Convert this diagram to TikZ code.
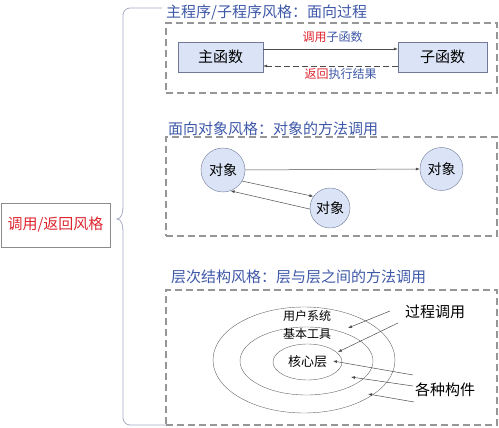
\documentclass[tikz,border=0pt]{standalone}
\usepackage{fontspec}
\setmainfont{Noto Sans CJK SC}
\usepackage{xcolor}
\usetikzlibrary{positioning,arrows.meta,shapes.geometric}
\definecolor{titleblue}{RGB}{62,88,168}
\definecolor{callred}{RGB}{222,36,46}
\definecolor{boxfill}{RGB}{218,228,246}
\definecolor{boxline}{RGB}{112,122,152}
\definecolor{dashgray}{RGB}{150,150,150}
\definecolor{bracegray}{RGB}{165,170,195}

\begin{document}
\begin{tikzpicture}[x=1pt,y=-1pt,
  title/.style={anchor=west,inner sep=0pt,text=titleblue,font=\fontsize{15}{18}\selectfont},
  frame/.style={draw=dashgray,dash pattern=on 7pt off 4pt,line width=1.1pt,inner sep=0pt},
  func/.style={draw=boxline,fill=boxfill,minimum height=30pt,font=\fontsize{15}{18}\selectfont},
  obj/.style={circle,draw=boxline,fill=boxfill,inner sep=0pt,font=\fontsize{14}{16}\selectfont},
  layer/.style={ellipse,draw=black!60,inner sep=0pt},
  call/.style={-{Latex[length=4pt,width=3pt]},draw=black!70,line width=0.5pt}]

  \useasboundingbox (0,0) rectangle (499,428);

  % left label and brace
  \node[draw=black!45,text=callred,minimum width=109pt,minimum height=44pt,font=\fontsize{15}{18}\selectfont] (CaRe) at (55.5,225) {调用/返回风格};
  \draw[bracegray,line width=0.8pt,rounded corners=7pt] (162,8) -- (123,8) -- (123,205);
  \draw[bracegray,line width=0.8pt] (123,205) .. controls (123,214) and (121,219) .. (117,219) .. controls (121,219) and (123,224) .. (123,233);
  \draw[bracegray,line width=0.8pt,rounded corners=7pt] (123,233) -- (123,425) -- (166,425);

  % main program / sub program
  \node[title] (PrTi) at (166,13) {主程序/子程序风格：面向过程};
  \node[frame,minimum width=331pt,minimum height=70pt] (PrFr) at (331.5,58) {};
  \node[func,minimum width=85pt] (MaFu) at (220.5,57) {主函数};
  \node[func,minimum width=89pt] (SuFu) at (442.5,57) {子函数};
  \draw[call] ([yshift=8pt]MaFu.east) -- ([yshift=8pt]SuFu.west);
  \draw[call,dash pattern=on 6pt off 3pt] ([yshift=-9pt]SuFu.west) -- ([yshift=-9pt]MaFu.east);
  \node[font=\fontsize{12}{14}\selectfont] (CaLa) at (332.5,37) {\textcolor{callred}{调用}\textcolor{titleblue}{子函数}};
  \node[font=\fontsize{12}{14}\selectfont] (ReLa) at (340.5,74) {\textcolor{callred}{返回}\textcolor{titleblue}{执行结果}};

  % object oriented
  \node[title] (ObTi) at (168,129) {面向对象风格：对象的方法调用};
  \node[frame,minimum width=331pt,minimum height=99pt] (ObFr) at (331.5,186.5) {};
  \node[obj,minimum size=44pt] (ObA) at (223,170) {对象};
  \node[obj,minimum size=43pt] (ObB) at (441.5,169) {对象};
  \node[obj,minimum size=40pt] (ObC) at (330,208) {对象};
  \draw[call] (ObA.east) -- (ObB.west);
  \draw[call] (ObA.-30) -- (ObC.145);
  \draw[call] (ObC.183) -- (ObA.-70);

  % layered
  \node[title] (LaTi) at (171,277) {层次结构风格：层与层之间的方法调用};
  \node[frame,minimum width=331pt,minimum height=135pt] (LaFr) at (331.5,357.5) {};
  \node[layer,minimum width=182pt,minimum height=106pt] (UsLa) at (304,360) {};
  \node[layer,minimum width=133pt,minimum height=68pt] (ToLa) at (306.5,361) {};
  \node[layer,minimum width=69pt,minimum height=36pt] (CoLa) at (307.5,362) {};
  \node[font=\fontsize{12}{14}\selectfont] (UsTx) at (307,315.5) {用户系统};
  \node[font=\fontsize{12}{14}\selectfont] (ToTx) at (307,334) {基本工具};
  \node[font=\fontsize{13}{15}\selectfont] (CoTx) at (307.5,361.5) {核心层};
  \node[font=\fontsize{15}{18}\selectfont] (PrCa) at (435,312) {过程调用};
  \node[font=\fontsize{15}{18}\selectfont] (CoPa) at (445,389.5) {各种构件};

  \coordinate (PcA) at (390,311);
  \coordinate (PcB) at (398,323);
  \coordinate (CpA) at (413,375);
  \coordinate (CpB) at (413,386);
  \coordinate (CpC) at (414,402);
  \coordinate (EnA) at (348,328);
  \coordinate (EnB) at (338,352);
  \coordinate (EnC) at (333,361);
  \coordinate (EnD) at (351,377);
  \coordinate (EnE) at (368,394);
  \draw[call] (PcA) -- (EnA);
  \draw[call] (PcB) -- (EnB);
  \draw[call] (CpA) -- (EnC);
  \draw[call] (CpB) -- (EnD);
  \draw[call] (CpC) -- (EnE);

\end{tikzpicture}
\end{document}
